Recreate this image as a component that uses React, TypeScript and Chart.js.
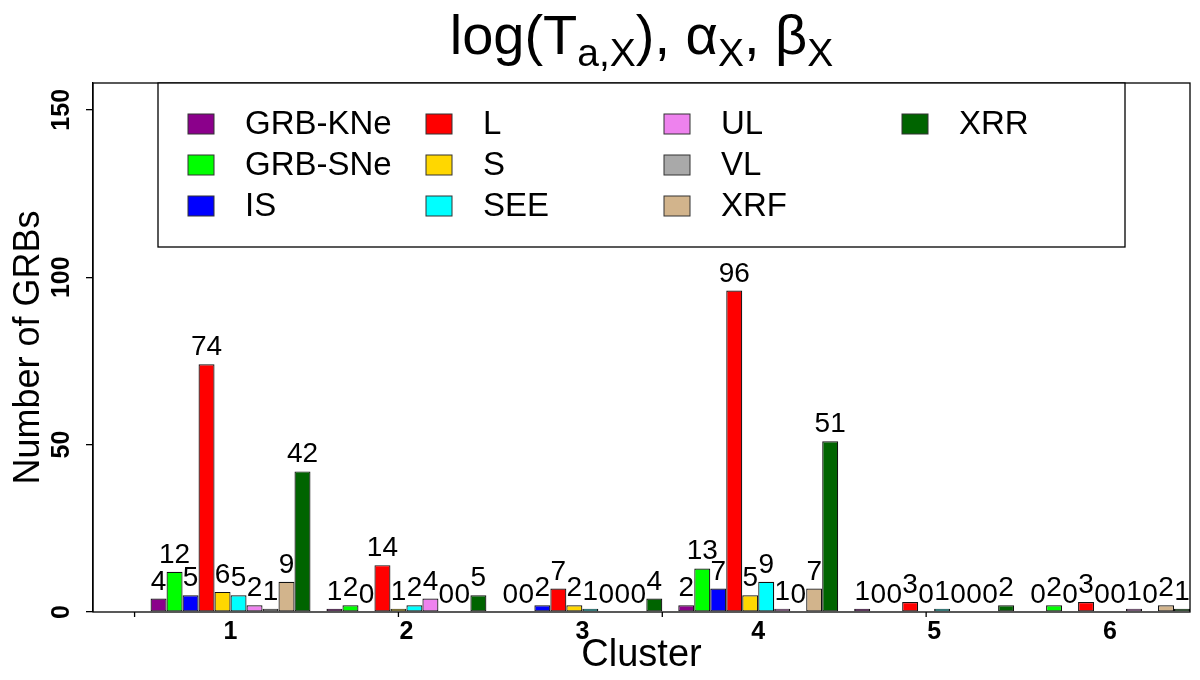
import React, { useEffect, useRef } from "react";
import { Chart, registerables } from "chart.js";

Chart.register(...registerables);

// ---- data ----
const clusters = ["1", "2", "3", "4", "5", "6"];
const seriesNames = ["GRB-KNe", "GRB-SNe", "IS", "L", "S", "SEE", "UL", "VL", "XRF", "XRR"];
const seriesColors = ["#8B008B", "#00FF00", "#0000FF", "#FF0000", "#FFD700", "#00FFFF", "#EE82EE", "#A9A9A9", "#D2B48C", "#006400"];
const grbKNe = [4, 1, 0, 2, 1, 0];
const grbSNe = [12, 2, 0, 13, 0, 2];
const isVals = [5, 0, 2, 7, 0, 0];
const lVals = [74, 14, 7, 96, 3, 3];
const sVals = [6, 1, 2, 5, 0, 0];
const seeVals = [5, 2, 1, 9, 1, 0];
const ulVals = [2, 4, 0, 1, 0, 1];
const vlVals = [1, 0, 0, 0, 0, 0];
const xrfVals = [9, 0, 0, 7, 0, 2];
const xrrVals = [42, 5, 4, 51, 2, 1];
const seriesValues = [grbKNe, grbSNe, isVals, lVals, sVals, seeVals, ulVals, vlVals, xrfVals, xrrVals];
const yTicks = [0, 50, 100, 150];
const xTickMarks = [0, 16.5, 33, 49.5];
const xLimits = [-2.6, 66];
const yLimits = [0, 158];
const titleParts = [
  { t: "log(T", sub: false },
  { t: "a,X", sub: true },
  { t: "), α", sub: false },
  { t: "X", sub: true },
  { t: ", β", sub: false },
  { t: "X", sub: true },
];
const xTitle = "Cluster";
const yTitle = "Number of GRBs";

const FONT = "'Liberation Sans', Arial, Helvetica, sans-serif";
const groupSize = seriesNames.length + 1;
const groupCenter = (i: number) => i * groupSize + 1 + seriesNames.length / 2;

const decorPlugin = {
  id: "decor",
  afterDatasetsDraw(chart: any) {
    const ctx = chart.ctx;
    ctx.save();
    ctx.fillStyle = "#000";
    ctx.font = `28px ${FONT}`;
    ctx.textAlign = "center";
    ctx.textBaseline = "alphabetic";
    chart.data.datasets.forEach((ds: any, di: number) => {
      const meta = chart.getDatasetMeta(di);
      meta.data.forEach((el: any, j: number) => {
        const v = ds.data[j].y;
        ctx.fillText(String(v), el.x, el.y - 9);
      });
    });
    ctx.restore();
  },
  afterDraw(chart: any) {
    const ctx = chart.ctx;
    const a = chart.chartArea;
    const xs = chart.scales.x;
    ctx.save();
    // plot box
    ctx.strokeStyle = "#000";
    ctx.lineWidth = 1.3;
    ctx.strokeRect(a.left, a.top, a.right - a.left, a.bottom - a.top);
    // x tick marks
    xTickMarks.forEach((v) => {
      const px = xs.getPixelForValue(v);
      ctx.beginPath();
      ctx.moveTo(px, a.bottom);
      ctx.lineTo(px, a.bottom + 5);
      ctx.stroke();
    });

    // legend (column-major, 3 rows x 4 cols)
    const nRows = 3;
    const nCols = Math.ceil(seriesNames.length / nRows);
    const colW = 238;
    const rowH = 41;
    const boxW = nCols * colW + 15;
    const boxH = (nRows + 1) * rowH;
    const cx = (a.left + a.right) / 2;
    const bx = cx - boxW / 2;
    const by = a.top;
    ctx.fillStyle = "#fff";
    ctx.fillRect(bx, by, boxW, boxH);
    ctx.strokeRect(bx, by, boxW, boxH);
    ctx.font = `33px ${FONT}`;
    ctx.textAlign = "left";
    ctx.textBaseline = "middle";
    seriesNames.forEach((name, i) => {
      const col = Math.floor(i / nRows);
      const row = i % nRows;
      const sx = bx + 30 + col * colW;
      const sy = by + (row + 1) * rowH;
      ctx.fillStyle = seriesColors[i];
      ctx.fillRect(sx, sy - 10, 26, 20);
      ctx.strokeStyle = "#333";
      ctx.lineWidth = 1;
      ctx.strokeRect(sx, sy - 10, 26, 20);
      ctx.fillStyle = "#000";
      ctx.fillText(name, sx + 57, sy + 1);
    });

    // title with subscripts
    const mainSize = 56;
    const subSize = 39;
    const baseY = 54;
    let total = 0;
    titleParts.forEach((p) => {
      ctx.font = `${p.sub ? subSize : mainSize}px ${FONT}`;
      total += ctx.measureText(p.t).width;
    });
    let x = cx - total / 2;
    ctx.fillStyle = "#000";
    ctx.textBaseline = "alphabetic";
    ctx.textAlign = "left";
    titleParts.forEach((p) => {
      ctx.font = `${p.sub ? subSize : mainSize}px ${FONT}`;
      ctx.fillText(p.t, x, p.sub ? baseY + 12 : baseY);
      x += ctx.measureText(p.t).width;
    });
    ctx.restore();
  },
};

export default function App() {
  const canvasRef = useRef<HTMLCanvasElement | null>(null);

  useEffect(() => {
    const canvas = canvasRef.current;
    if (!canvas) return;
    Chart.defaults.font.family = FONT;
    const datasets = seriesNames.map((name, si) => ({
      label: name,
      data: seriesValues[si].map((v, ci) => ({ x: groupCenter(ci), y: v })),
      backgroundColor: seriesColors[si],
      borderColor: "#111",
      borderWidth: 1.2,
      borderSkipped: false as any,
      categoryPercentage: seriesNames.length / groupSize,
      barPercentage: 1,
    }));
    const chart = new Chart(canvas, {
      type: "bar",
      data: { datasets },
      options: {
        animation: false,
        responsive: false,
        events: [],
        layout: { padding: { top: 83, right: 10, bottom: 0, left: 0 } },
        plugins: {
          legend: { display: false },
          title: { display: false },
          tooltip: { enabled: false },
        },
        scales: {
          x: {
            type: "linear",
            min: xLimits[0],
            max: xLimits[1],
            offset: false,
            grid: { display: false, drawTicks: false, offset: false },
            border: { display: false },
            afterBuildTicks: (s: any) => {
              s.ticks = clusters.map((_, i) => ({ value: groupCenter(i) }));
            },
            afterFit: (s: any) => {
              s.height = 68;
            },
            ticks: {
              autoSkip: false,
              maxRotation: 0,
              minRotation: 0,
              padding: 5,
              color: "#000",
              font: { size: 25, weight: "bold" },
              callback: (_v: any, idx: number) => clusters[idx],
            },
            title: {
              display: true,
              text: xTitle,
              color: "#000",
              font: { size: 38 },
              padding: { top: 0, bottom: 2 },
            },
          },
          y: {
            type: "linear",
            min: yLimits[0],
            max: yLimits[1],
            grid: { display: true, drawOnChartArea: false, drawTicks: true, tickLength: 7, color: "#000", lineWidth: 1.3 },
            border: { display: true, color: "#000", width: 1.3 },
            afterBuildTicks: (s: any) => {
              s.ticks = yTicks.map((v) => ({ value: v }));
            },
            afterFit: (s: any) => {
              s.width = 93;
            },
            ticks: {
              minRotation: 90,
              maxRotation: 90,
              crossAlign: "center",
              padding: 3,
              color: "#000",
              font: { size: 25, weight: "bold" },
            },
            title: {
              display: true,
              text: yTitle,
              color: "#000",
              font: { size: 36 },
              padding: { top: 7, bottom: 0 },
            },
          },
        },
      } as any,
      plugins: [decorPlugin],
    });
    return () => chart.destroy();
  }, []);

  return (
    <div style={{ position: "fixed", left: 0, top: 0, width: 1200, height: 680, background: "#fff" }}>
      <canvas ref={canvasRef} width={1200} height={680} style={{ display: "block" }} />
    </div>
  );
}
